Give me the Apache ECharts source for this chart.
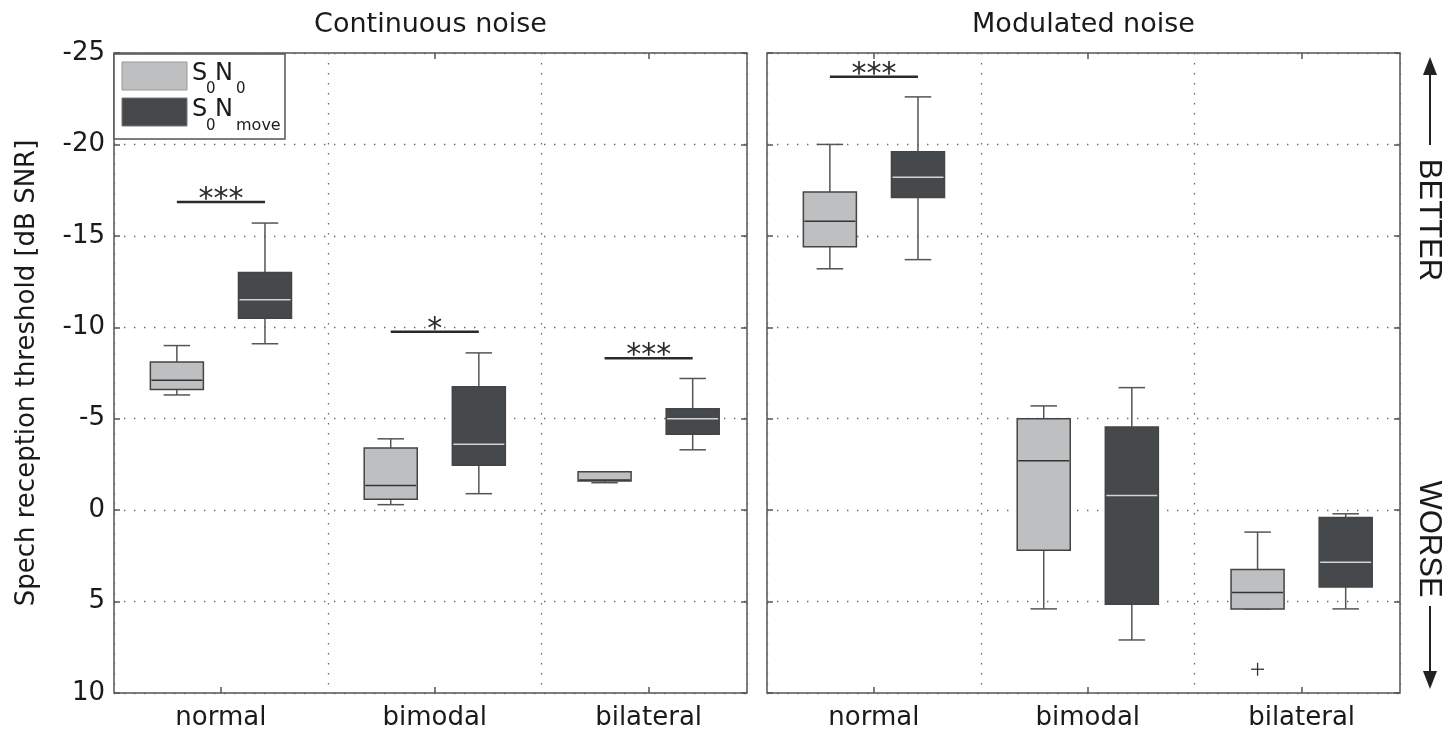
<!DOCTYPE html>
<html><head><meta charset="utf-8">
<script src="https://cdn.jsdelivr.net/npm/echarts@6/dist/echarts.min.js"></script>
<style>html,body{margin:0;padding:0;background:#fff}#c{width:1456px;height:732px}</style>
</head><body><div id="c"></div>
<script>
// ---------- data ----------
const categories = ['normal', 'bimodal', 'bilateral'];
const panelTitles = ['Continuous noise', 'Modulated noise'];
const seriesNames = ['S0N0', 'S0Nmove'];
const yAxisTitle = 'Spech reception threshold [dB SNR]';
// box stats per category: [lowest, q1, median, q3, highest]  (dB SNR)
const contS0N0    = [[-9.0, -8.1, -7.1, -6.6, -6.3], [-3.9, -3.4, -1.35, -0.6, -0.3], [-2.1, -2.1, -1.65, -1.6, -1.5]];
const contS0Nmove = [[-15.7, -13.0, -11.5, -10.5, -9.1], [-8.6, -6.75, -3.6, -2.45, -0.9], [-7.2, -5.55, -5.0, -4.15, -3.3]];
const modS0N0     = [[-20.0, -17.4, -15.8, -14.4, -13.2], [-5.7, -5.0, -2.7, 2.2, 5.4], [1.2, 3.25, 4.5, 5.4, 5.4]];
const modS0Nmove  = [[-22.6, -19.6, -18.2, -17.1, -13.7], [-6.7, -4.55, -0.8, 5.15, 7.1], [0.2, 0.4, 2.85, 4.2, 5.4]];
const modS0N0Outliers = [['bilateral', 8.7]];
// significance bars: [category, level, label]
const contSignificance = [['normal', -16.85, '***'], ['bimodal', -9.75, '*'], ['bilateral', -8.3, '***']];
const modSignificance  = [['normal', -23.7, '***']];
const yMin = -25, yMax = 10, yStep = 5;

// ---------- style ----------
const FONT = '"DejaVu Sans", sans-serif';
const TXT = '#1a1a1a';
const LIGHT = '#bebfc0', DARK = '#45494b';
const OFFSET = 0.206, BOX_W = 0.248;
const XMIN = 0.5, XMAX = 3.46;
const dotted = { color: '#6a6a6a', width: 1.3, type: [1.4, 8.6] };
const tickStyle = { color: '#555', width: 1.5 };
const noLine = { show: false, onZero: false };
const catIdx = c => categories.indexOf(c) + 1;

function boxSeries(name, stats, xi, yi, off, fill, medColor) {
  return {
    type: 'custom', name, xAxisIndex: xi, yAxisIndex: yi, clip: false, z: 5,
    itemStyle: { color: fill },
    data: stats.map((s, i) => [i + 1, ...s]),
    renderItem(params, api) {
      const x = api.value(0) + off;
      const v = [1, 2, 3, 4, 5].map(k => api.value(k));
      const P = val => api.coord([x, val]);
      const cx = P(v[2])[0];
      const ys = v.map(val => P(val)[1]);
      const halfW = api.size([BOX_W, 0])[0] / 2;
      const capW = halfW * 0.5;
      const ls = { stroke: '#555', lineWidth: 1.5 };
      return { type: 'group', children: [
        { type: 'line', shape: { x1: cx, y1: ys[0], x2: cx, y2: ys[1] }, style: ls },
        { type: 'line', shape: { x1: cx, y1: ys[3], x2: cx, y2: ys[4] }, style: ls },
        { type: 'line', shape: { x1: cx - capW, y1: ys[0], x2: cx + capW, y2: ys[0] }, style: ls },
        { type: 'line', shape: { x1: cx - capW, y1: ys[4], x2: cx + capW, y2: ys[4] }, style: ls },
        { type: 'rect', shape: { x: cx - halfW, y: Math.min(ys[1], ys[3]), width: 2 * halfW, height: Math.abs(ys[3] - ys[1]) },
          style: { fill, stroke: '#444', lineWidth: 1.5 } },
        { type: 'line', shape: { x1: cx - halfW + 1, y1: ys[2], x2: cx + halfW - 1, y2: ys[2] }, style: { stroke: medColor, lineWidth: 1.5 } }
      ]};
    }
  };
}
function outlierSeries(list, xi, yi, off) {
  return {
    type: 'custom', xAxisIndex: xi, yAxisIndex: yi, clip: false, z: 6,
    data: list.map(d => [catIdx(d[0]), d[1]]),
    renderItem(params, api) {
      const p = api.coord([api.value(0) + off, api.value(1)]);
      const s = 6.5, st = { stroke: '#333', lineWidth: 1.3 };
      return { type: 'group', children: [
        { type: 'line', shape: { x1: p[0] - s, y1: p[1], x2: p[0] + s, y2: p[1] }, style: st },
        { type: 'line', shape: { x1: p[0], y1: p[1] - s, x2: p[0], y2: p[1] + s }, style: st }
      ]};
    }
  };
}
function sigSeries(list, xi, yi) {
  return {
    type: 'custom', xAxisIndex: xi, yAxisIndex: yi, clip: false, z: 6,
    data: list.map(d => [catIdx(d[0]), d[1]]),
    renderItem(params, api) {
      const c = api.value(0), lv = api.value(1);
      const a = api.coord([c - OFFSET, lv]), b = api.coord([c + OFFSET, lv]);
      return { type: 'group', children: [
        { type: 'line', shape: { x1: a[0], y1: a[1], x2: b[0], y2: b[1] }, style: { stroke: '#2a2a2a', lineWidth: 2.5 } },
        { type: 'text', style: { text: list[params.dataIndex][2], x: (a[0] + b[0]) / 2, y: a[1] - 2,
          align: 'center', verticalAlign: 'middle', fontSize: 30, fontFamily: FONT, fill: '#2a2a2a' } }
      ]};
    }
  };
}
function xAxes(gi) {
  return [
    { gridIndex: gi, type: 'value', position: 'bottom', min: XMIN, max: XMAX, interval: 1,
      axisLine: noLine,
      axisTick: { show: true, inside: true, length: 6, customValues: [1, 2, 3], lineStyle: tickStyle },
      axisLabel: { customValues: [1, 2, 3], formatter: v => categories[Math.round(v) - 1], margin: 12,
        fontSize: 26, fontFamily: FONT, color: TXT },
      splitLine: { show: false } },
    { gridIndex: gi, type: 'value', position: 'top', min: XMIN, max: XMAX, interval: 1,
      axisLine: noLine,
      axisTick: { show: true, inside: true, length: 6, customValues: [1, 2, 3], lineStyle: tickStyle },
      axisLabel: { show: false }, splitLine: { show: false } },
    // category boundaries (dotted)
    { gridIndex: gi, type: 'value', position: 'bottom', min: XMIN, max: XMAX, interval: 1,
      axisLine: noLine, axisTick: { show: false }, axisLabel: { show: false },
      splitLine: { show: true, lineStyle: dotted } }
  ];
}
function yAxes(gi, labels) {
  return [
    { gridIndex: gi, type: 'value', inverse: true, min: yMin, max: yMax, interval: yStep, position: 'left',
      axisLine: noLine,
      axisTick: { show: true, inside: true, length: 6, lineStyle: tickStyle },
      axisLabel: { show: labels, fontSize: 26, fontFamily: FONT, color: TXT, margin: 9 },
      splitLine: { show: true, lineStyle: dotted },
      name: labels ? yAxisTitle : '', nameLocation: 'middle', nameGap: 74,
      nameTextStyle: { fontSize: 26, fontFamily: FONT, color: TXT } },
    { gridIndex: gi, type: 'value', inverse: true, min: yMin, max: yMax, interval: yStep, position: 'right',
      axisLine: noLine,
      axisTick: { show: true, inside: true, length: 6, lineStyle: tickStyle },
      axisLabel: { show: false }, splitLine: { show: false } }
  ];
}

const grids = [
  { left: 114, width: 633, top: 53, height: 640, show: true, borderColor: '#555', borderWidth: 1.5, backgroundColor: 'transparent' },
  { left: 767, width: 633, top: 53, height: 640, show: true, borderColor: '#555', borderWidth: 1.5, backgroundColor: 'transparent' }
];

// legend + decorations
const legendGraphics = [
  { type: 'rect', z: 100, shape: { x: 114, y: 54, width: 171, height: 85 }, style: { fill: '#fff', stroke: '#555', lineWidth: 1.5 } },
  { type: 'rect', z: 101, shape: { x: 122, y: 62, width: 65, height: 28 }, style: { fill: LIGHT, stroke: '#999', lineWidth: 1 } },
  { type: 'rect', z: 101, shape: { x: 122, y: 98, width: 65, height: 28 }, style: { fill: DARK, stroke: '#777', lineWidth: 1 } },
];
function lt(text, x, y, size) {
  return { type: 'text', z: 102, x, y, style: { text, fontSize: size, fontFamily: FONT, fill: TXT, align: 'left', verticalAlign: 'middle' } };
}
legendGraphics.push(
  lt('S', 192, 74, 24), lt('0', 206, 89, 15), lt('N', 215, 74, 24), lt('0', 236, 89, 15),
  lt('S', 192, 110, 24), lt('0', 206, 126, 15), lt('N', 215, 110, 24), lt('move', 236, 126, 16)
);
const ax = 1430;
const decoGraphics = [
  { type: 'text', x: 114 + 633 / 2, y: 25, style: { text: panelTitles[0], fontSize: 27, fontFamily: FONT, fill: TXT, align: 'center', verticalAlign: 'middle' } },
  { type: 'text', x: 767 + 633 / 2, y: 25, style: { text: panelTitles[1], fontSize: 27, fontFamily: FONT, fill: TXT, align: 'center', verticalAlign: 'middle' } },
  { type: 'line', shape: { x1: ax, y1: 73, x2: ax, y2: 145 }, style: { stroke: '#222', lineWidth: 2 } },
  { type: 'polygon', shape: { points: [[ax, 57], [ax - 7, 75], [ax + 7, 75]] }, style: { fill: '#222' } },
  { type: 'line', shape: { x1: ax, y1: 606, x2: ax, y2: 673 }, style: { stroke: '#222', lineWidth: 2 } },
  { type: 'polygon', shape: { points: [[ax, 689], [ax - 7, 671], [ax + 7, 671]] }, style: { fill: '#222' } },
  { type: 'text', x: 1429, y: 220, rotation: -Math.PI / 2, style: { text: 'BETTER', fontSize: 31, fontFamily: '"Liberation Sans", sans-serif', fill: TXT, align: 'center', verticalAlign: 'middle' } },
  { type: 'text', x: 1429, y: 539, rotation: -Math.PI / 2, style: { text: 'WORSE', fontSize: 31, fontFamily: '"Liberation Sans", sans-serif', fill: TXT, align: 'center', verticalAlign: 'middle' } }
];

// axis indices: x: grid0 -> 0,1,2 ; grid1 -> 3,4,5   y: grid0 -> 0,1 ; grid1 -> 2,3
const option = {
  animation: false,
  backgroundColor: '#fff',
  grid: grids,
  xAxis: [...xAxes(0), ...xAxes(1)],
  yAxis: [...yAxes(0, true), ...yAxes(1, false)],
  graphic: { elements: [...decoGraphics, ...legendGraphics] },
  series: [
    boxSeries(seriesNames[0], contS0N0, 0, 0, -OFFSET, LIGHT, '#333'),
    boxSeries(seriesNames[1], contS0Nmove, 0, 0, OFFSET, DARK, '#d4d4d4'),
    boxSeries(seriesNames[0], modS0N0, 3, 2, -OFFSET, LIGHT, '#333'),
    boxSeries(seriesNames[1], modS0Nmove, 3, 2, OFFSET, DARK, '#d4d4d4'),
    outlierSeries(modS0N0Outliers, 3, 2, -OFFSET),
    sigSeries(contSignificance, 0, 0),
    sigSeries(modSignificance, 3, 2)
  ]
};
const chart = echarts.init(document.getElementById('c'), null, { renderer: 'canvas' });
chart.setOption(option);
</script></body></html>
